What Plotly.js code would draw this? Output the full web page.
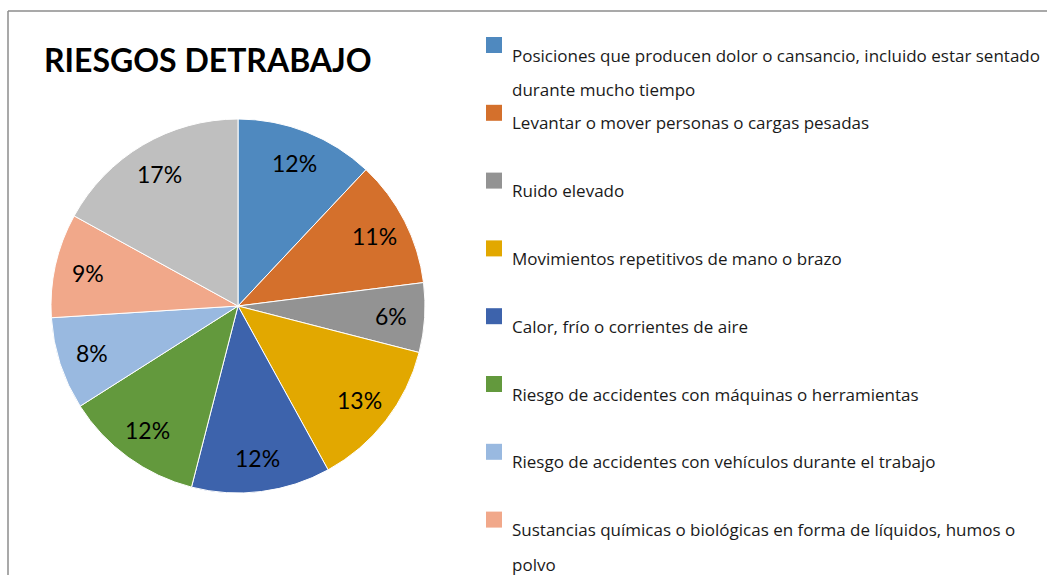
<!DOCTYPE html>
<html>
<head>
<meta charset="utf-8">
<script src="https://cdn.plot.ly/plotly-3.0.1.min.js"></script>
<style>
html,body{margin:0;padding:0;background:#fff;}
#chart{width:1047px;height:575px;}
</style>
</head>
<body>
<div id="chart"></div>
<script>
const titleText = 'RIESGOS DETRABAJO';
const labels = [
  'Posiciones que producen dolor o cansancio, incluido estar sentado<br>durante mucho tiempo',
  'Levantar o mover personas o cargas pesadas',
  'Ruido elevado',
  'Movimientos repetitivos de mano o brazo',
  'Calor, frío o corrientes de aire',
  'Riesgo de accidentes con máquinas o herramientas',
  'Riesgo de accidentes con vehículos durante el trabajo',
  'Sustancias químicas o biológicas en forma de líquidos, humos o<br>polvo',
  'Otros'
];
const values = [12, 11, 6, 13, 12, 12, 8, 9, 17];
const colors = ['#4F89BF', '#D4702C', '#939393', '#E2A800', '#3D63AC', '#63993D', '#99B9E0', '#F1A88A', '#BFBFBF'];

const W = 1047, H = 575;
const px = x => x / W;
const py = y => 1 - y / H;
const FONT = 'Lato, "Open Sans", sans-serif';
const LEGFONT = '"Open Sans", Lato, sans-serif';

const shapes = [
  {type:'line', xref:'paper', yref:'paper', x0:px(8), x1:1, y0:py(11), y1:py(11), line:{color:'#8c8c8c', width:1.5}},
  {type:'line', xref:'paper', yref:'paper', x0:px(8), x1:px(8), y0:py(11), y1:0, line:{color:'#8c8c8c', width:1.5}}
];
const annotations = [];

const legTop = 37, legStep = 67.8;
labels.forEach((lab, i) => {
  const top = legTop + i * legStep;
  if (top + 16 > H) return;
  shapes.push({type:'rect', xref:'paper', yref:'paper', x0:px(486), x1:px(502), y0:py(top), y1:py(top + 16),
    fillcolor:colors[i], line:{width:0}});
  lab.split('<br>').forEach((line, j) => {
    const yc = top + 18 + j * 35;
    if (yc > H) return;
    annotations.push({xref:'paper', yref:'paper', x:px(510), y:py(yc), xanchor:'left', yanchor:'middle',
      text:line, showarrow:false, font:{family:LEGFONT, size:17, color:'#1a1a1a'}});
  });
});

// pie geometry (pixels)
const cx = 238, cy = 306, r = 187, labR = 0.82 * r;

// percentage labels placed on each slice's bisector
const total = values.reduce((a, b) => a + b, 0);
let cum = 0;
values.forEach((v, i) => {
  const mid = (cum + v / 2) / total * 2 * Math.PI;
  cum += v;
  annotations.push({xref:'paper', yref:'paper',
    x:px(cx + labR * Math.sin(mid)), y:py(cy - labR * Math.cos(mid)),
    xanchor:'center', yanchor:'middle', showarrow:false,
    text:Math.round(v / total * 100) + '%',
    font:{family:FONT, size:23, color:'#000000'}});
});

const data = [{
  type:'pie',
  labels: labels,
  values: values,
  sort:false,
  direction:'clockwise',
  rotation:0,
  marker:{colors:colors, line:{color:'#ffffff', width:1}},
  textinfo:'none',
  showlegend:false,
  domain:{x:[px(cx - r), px(cx + r)], y:[py(cy + r), py(cy - r)]},
  hoverinfo:'label+percent'
}];

const layout = {
  width:W, height:H,
  margin:{l:0, r:0, t:0, b:0},
  paper_bgcolor:'#ffffff',
  plot_bgcolor:'#ffffff',
  title:{text:'<b>' + titleText + '</b>', x:px(44), xanchor:'left', xref:'paper', y:py(61), yref:'paper', yanchor:'middle',
    font:{family:FONT, size:32, color:'#000000'}},
  shapes:shapes,
  annotations:annotations,
  showlegend:false
};

Plotly.newPlot('chart', data, layout, {displayModeBar:false});
</script>
</body>
</html>
